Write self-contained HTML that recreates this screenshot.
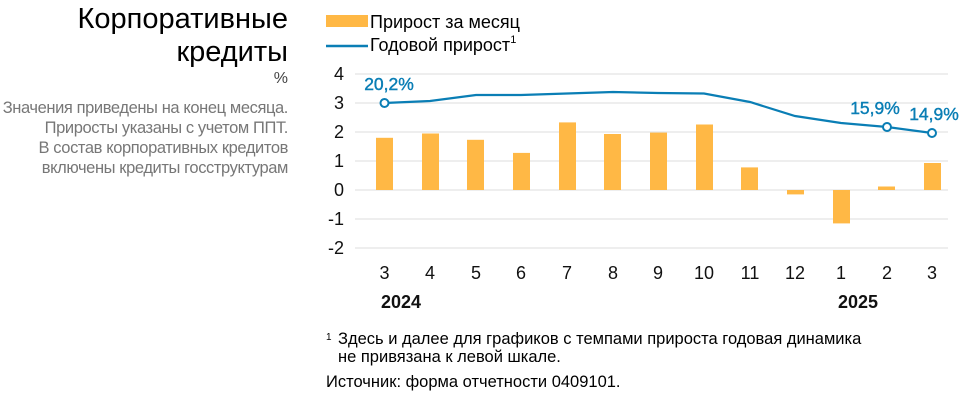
<!DOCTYPE html>
<html><head><meta charset="utf-8"><style>
body{margin:0;width:973px;height:402px;background:#fff;font-family:"Liberation Sans",sans-serif;overflow:hidden;position:relative}
.t{position:absolute;right:685px;text-align:right;color:#000;white-space:nowrap}
</style></head><body>
<div class="t" style="top:3px;font-size:29px;line-height:33px">Корпоративные<br>кредиты</div>
<div class="t" style="top:70px;font-size:16px;color:#444">%</div>
<div class="t" style="top:98px;font-size:16.5px;line-height:20px;color:#777;letter-spacing:-0.4px">Значения приведены на конец месяца.<br>Приросты указаны с учетом ППТ.<br>В состав корпоративных кредитов<br>включены кредиты госструктурам</div>
<svg width="973" height="402" style="position:absolute;left:0;top:0" font-family="Liberation Sans, sans-serif">
<rect x="326" y="15" width="42" height="12" fill="#FFB845"/>
<text x="370" y="28" font-size="18">Прирост за месяц</text>
<line x1="326" y1="46" x2="368" y2="46" stroke="#0A7EB5" stroke-width="2.5"/>
<text x="370" y="51" font-size="18">Годовой прирост<tspan font-size="11" dy="-8">1</tspan></text>
<g stroke="#ddd" stroke-width="1">
<line x1="355" x2="948" y1="74" y2="74"/><line x1="355" x2="948" y1="103" y2="103"/><line x1="355" x2="948" y1="132" y2="132"/><line x1="355" x2="948" y1="161" y2="161"/><line x1="355" x2="948" y1="190" y2="190"/><line x1="355" x2="948" y1="219" y2="219"/><line x1="355" x2="948" y1="248" y2="248"/>
</g>
<g font-size="18" text-anchor="end" fill="#111">
<text x="344" y="80">4</text><text x="344" y="109">3</text><text x="344" y="138">2</text><text x="344" y="167">1</text><text x="344" y="196">0</text><text x="344" y="225">-1</text><text x="344" y="254">-2</text>
</g>
<g fill="#FFB845">
<rect x="376" y="137.8" width="17" height="52.2"/>
<rect x="422" y="133.5" width="17" height="56.5"/>
<rect x="467" y="139.8" width="17" height="50.2"/>
<rect x="513" y="152.9" width="17" height="37.1"/>
<rect x="559" y="122.4" width="17" height="67.6"/>
<rect x="604" y="134" width="17" height="56"/>
<rect x="650" y="132.6" width="17" height="57.4"/>
<rect x="696" y="124.5" width="17" height="65.5"/>
<rect x="741" y="167.4" width="17" height="22.6"/>
<rect x="787" y="190" width="17" height="4.4"/>
<rect x="833" y="190" width="17" height="33.4"/>
<rect x="878" y="186.5" width="17" height="3.5"/>
<rect x="924" y="163" width="17" height="27"/>
</g>
<polyline fill="none" stroke="#0A7EB5" stroke-width="2.2" points="384.5,103 430,101 476,95 521,95 567,93.5 613,92 658,93 704,93.5 750,102 795,116 841,123 887,127 932,133"/>
<g fill="#fff" stroke="#0A7EB5" stroke-width="2"><circle cx="384.5" cy="103" r="4"/><circle cx="887" cy="127" r="4"/><circle cx="932" cy="133" r="4"/></g>
<g font-size="17.5" fill="#0A7EB5" text-anchor="middle" stroke="#0A7EB5" stroke-width="0.4">
<text x="389" y="90">20,2%</text><text x="875" y="114">15,9%</text><text x="934" y="120">14,9%</text>
</g>
<g font-size="18" text-anchor="middle" fill="#111">
<text x="384.5" y="279">3</text><text x="430" y="279">4</text><text x="476" y="279">5</text><text x="521" y="279">6</text><text x="567" y="279">7</text><text x="613" y="279">8</text><text x="658" y="279">9</text><text x="704" y="279">10</text><text x="750" y="279">11</text><text x="795" y="279">12</text><text x="841" y="279">1</text><text x="887" y="279">2</text><text x="932" y="279">3</text>
<text x="401" y="308" font-weight="bold">2024</text><text x="858" y="308" font-weight="bold">2025</text>
</g>
<text x="326" y="340" font-size="10">1</text>
<text x="338" y="344" font-size="16.5">Здесь и далее для графиков с темпами прироста годовая динамика</text>
<text x="338" y="362" font-size="16.5">не привязана к левой шкале.</text>
<text x="326" y="387" font-size="16.5">Источник: форма отчетности 0409101.</text>
</svg>
</body></html>
